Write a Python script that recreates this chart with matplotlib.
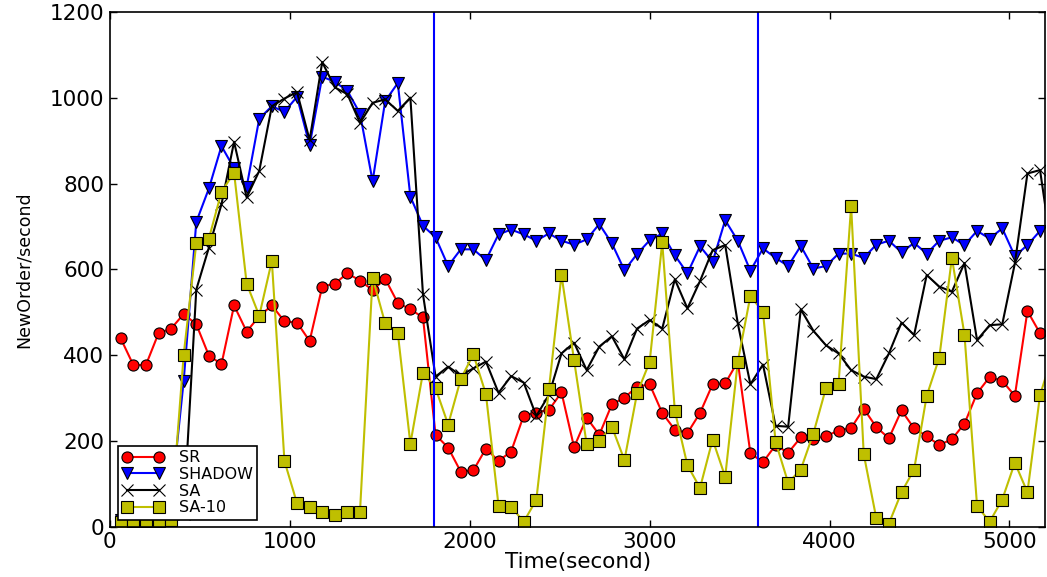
import numpy as np
import matplotlib
matplotlib.use('Agg')
import matplotlib.pyplot as plt

# sample times (s): every 70 s starting at 60 s
time_s = list(np.arange(60, 5180, 70))
time_ext = time_s + [5240]  # SA / SA-10 continue just beyond the right edge

sr = [439, 377, 377, 451, 462, 496, 472, 399, 379, 516,
      455, 491, 516, 479, 476, 433, 560, 567, 591, 574,
      552, 578, 522, 507, 488, 214, 184, 128, 131, 182,
      153, 175, 259, 266, 272, 313, 185, 254, 214, 285,
      301, 326, 332, 265, 226, 218, 265, 332, 334, 385,
      171, 150, 190, 172, 208, 204, 211, 224, 230, 275,
      232, 206, 271, 229, 211, 190, 204, 240, 311, 349,
      340, 305, 503, 451]

shadow = [15, 15, 20, 25, 60, 340, 711, 789, 888, 836,
          793, 952, 981, 968, 1003, 890, 1050, 1038, 1017, 964,
          806, 993, 1035, 770, 702, 675, 608, 647, 647, 622,
          682, 693, 682, 667, 684, 667, 658, 670, 706, 661,
          598, 636, 668, 684, 633, 591, 654, 618, 715, 667,
          597, 649, 627, 608, 655, 602, 608, 637, 637, 627,
          658, 667, 640, 662, 637, 667, 675, 657, 690, 672,
          696, 631, 657, 690]

sa = [10, 12, 10, 15, 20, 30, 553, 651, 752, 898,
      768, 830, 981, 999, 1014, 902, 1084, 1025, 1009, 942,
      989, 997, 970, 1001, 542, 350, 373, 353, 369, 385,
      312, 351, 336, 258, 307, 404, 429, 365, 420, 444,
      390, 462, 482, 462, 577, 509, 573, 645, 657, 474,
      332, 378, 235, 233, 507, 457, 423, 404, 365, 350,
      344, 404, 476, 447, 587, 560, 548, 615, 435, 470,
      472, 614, 824, 832, 630]

sa10 = [11, 12, 12, 14, 15, 401, 661, 672, 781, 826,
        567, 492, 620, 153, 54, 46, 33, 27, 35, 35,
        581, 474, 452, 193, 359, 323, 238, 344, 402, 309,
        49, 46, 11, 62, 320, 587, 388, 192, 200, 233,
        155, 311, 384, 663, 270, 143, 90, 203, 116, 385,
        538, 501, 198, 102, 133, 217, 323, 333, 748, 169,
        19, 7, 80, 133, 305, 394, 627, 448, 48, 11,
        63, 149, 80, 307, 400]

phase_marks = [1800, 3600]
x_ticks = [0, 1000, 2000, 3000, 4000, 5000]
y_ticks = [0, 200, 400, 600, 800, 1000, 1200]

fig = plt.figure(figsize=(10.47, 5.77), dpi=100)
ax = fig.add_axes([0.105, 0.0875, 0.8935, 0.891])

ms = 8
ax.plot(time_s, sr, color='r', marker='o', ms=ms, mec='k', mew=0.8, lw=1.5, label='SR')
ax.plot(time_s, shadow, color='b', marker='v', ms=ms + 1, mec='k', mew=0.8, lw=1.5, label='SHADOW')
ax.plot(time_ext, sa, color='k', marker='x', ms=ms + 1, mew=0.8, lw=1.5, label='SA')
ax.plot(time_ext, sa10, color=(0.75, 0.75, 0), marker='s', ms=ms, mec='k', mew=0.8, lw=1.5, label='SA-10')

for xv in phase_marks:
    ax.axvline(xv, color='b', lw=1.5)

ax.set_xlim(0, 5200)
ax.set_ylim(0, 1200)
ax.set_xticks(x_ticks)
ax.set_yticks(y_ticks)
ax.tick_params(direction='in', length=5, width=1, top=True, right=True,
               labelsize=15.5, pad=4)
for s in ax.spines.values():
    s.set_linewidth(1.2)

ax.set_xlabel('Time(second)', fontsize=15.5, labelpad=0)
ax.set_ylabel('NewOrder/second', fontsize=12.5, labelpad=12)

leg = ax.legend(loc='lower left', bbox_to_anchor=(0.0085, 0.0126), borderaxespad=0,
                numpoints=2, fontsize=11.5, fancybox=False, framealpha=1,
                edgecolor='k', handlelength=2.6, labelspacing=0.1,
                borderpad=0.3, handletextpad=0.9)
leg.get_frame().set_linewidth(1.2)

fig.savefig('out.png', dpi=100)
